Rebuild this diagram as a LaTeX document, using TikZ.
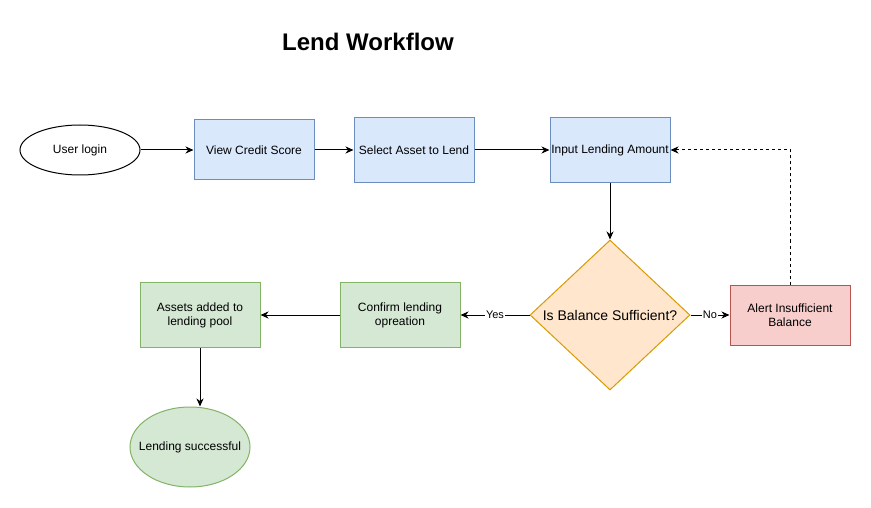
\documentclass[tikz,border=0pt]{standalone}
\usepackage{fontspec}
\setmainfont{Liberation Sans}
\usetikzlibrary{arrows.meta,shapes.geometric}
\definecolor{blueFill}{HTML}{DAE8FC}
\definecolor{blueLine}{HTML}{6C8EBF}
\definecolor{greenFill}{HTML}{D5E8D4}
\definecolor{greenLine}{HTML}{82B366}
\definecolor{orangeFill}{HTML}{FFE6CC}
\definecolor{orangeLine}{HTML}{D79B00}
\definecolor{redFill}{HTML}{F8CECC}
\definecolor{redLine}{HTML}{B85450}
\begin{document}
\begin{tikzpicture}[x=1pt,y=-1pt,
    txt/.style={font=\fontsize{12}{14}\selectfont, align=center, inner sep=0pt},
    box/.style={txt, draw, rectangle, minimum width=120pt, minimum height=60pt, line width=1pt},
    bluebox/.style={box, fill=blueFill, draw=blueLine},
    greenbox/.style={box, fill=greenFill, draw=greenLine},
    arr/.style={line width=1pt, -{Stealth[length=8pt,width=7pt,inset=2.5pt]}},
    lbl/.style={font=\fontsize{11}{13}\selectfont, fill=white, inner sep=1pt}]
    \useasboundingbox (0,0) rectangle (871,508);
    \node (title) at (368,42) {\fontsize{24}{28}\selectfont\bfseries Lend Workflow};

    % top row
    \node[txt, draw, ellipse, line width=1pt, minimum width=120pt, minimum height=50pt] (login) at (80,150) {User login};
    \node[bluebox] (credit) at (254,150) {View Credit Score};
    \node[bluebox, minimum height=65pt] (asset) at (414,150) {Select Asset to Lend};
    \node[bluebox, minimum height=65pt] (amount) at (610,150) {Input Lending Amount};

    % decision
    \node[txt, diamond, draw=orangeLine, fill=orangeFill, line width=1pt, minimum width=160pt, minimum height=150pt] (check) at (610,315) {};
    \node[txt, font=\fontsize{14}{16}\selectfont] (checktext) at (check) {Is Balance Sufficient?};
    \node[box, fill=redFill, draw=redLine] (alert) at (790,315) {Alert Insufficient\\Balance};

    % bottom row
    \node[greenbox, minimum height=65pt] (confirm) at (400,315) {Confirm lending\\opreation};
    \node[greenbox, minimum height=65pt] (pool) at (200,315) {Assets added to\\lending pool};
    \node[txt, draw=greenLine, fill=greenFill, ellipse, line width=1pt, minimum width=120pt, minimum height=80pt] (success) at (190,447) {};
    \node[txt] (successtext) at (success) {Lending successful};

    \draw[arr] (login) -- (credit);
    \draw[arr] (credit) -- (asset);
    \draw[arr] (asset) -- (amount);
    \draw[arr] (amount) -- (check);
    \draw[arr] (check) -- node[lbl] {No} (alert);
    \draw[arr] (check) -- node[lbl] {Yes} (confirm);
    \draw[arr] (confirm) -- (pool);
    \draw[arr] (pool.south) -- (pool.south |- success.north);
    \draw[arr, dash pattern=on 3pt off 3pt] (alert.north) |- (amount.east);
\end{tikzpicture}
\end{document}
